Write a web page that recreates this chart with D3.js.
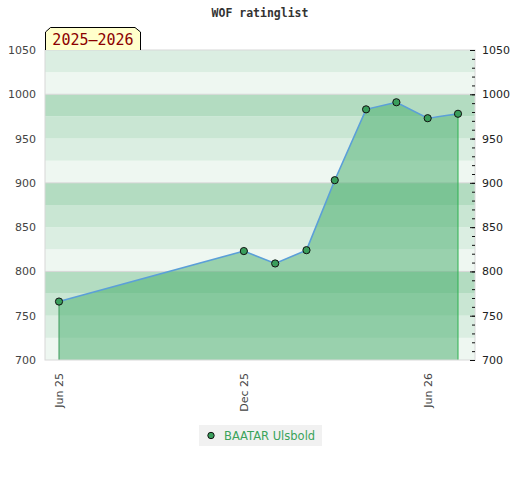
<!DOCTYPE html>
<html>
<head>
<meta charset="utf-8">
<script src="https://cdn.jsdelivr.net/npm/d3@7"></script>
<style>
  body { margin: 0; background: #fff; }
</style>
</head>
<body>
<svg id="chart"></svg>
<script>
// Rating list dates and values
const listDates = ["2025-06-01", "2025-12-01", "2026-01-01", "2026-02-01", "2026-03-01",
    "2026-04-01", "2026-05-01", "2026-06-01", "2026-07-01"];
const ratings = [766, 823, 809, 824, 903, 983, 991, 973, 978];
const playerName = "BAATAR Ulsbold";
const seasonLabel = "2025\u20132026";
const chartTitle = "WOF ratinglist";

// Axis ticks
const xTickDates = ["2025-06-01", "2025-12-01", "2026-06-01"];
const xTickLabels = ["Jun 25", "Dec 25", "Jun 26"];
const yTicks = [700, 750, 800, 850, 900, 950, 1000, 1050];

// Background bands, repeating every 100 points (from top of each 100 block)
const bandColors = ["#b3dcc1", "#c9e6d3", "#dbeee2", "#eef7f1"];

const svgWidth = 520;
const svgHeight = 480;
const plot = { left: 45, right: 475, top: 50, bottom: 360 };

const svg = d3.select("#chart")
    .attr("width", svgWidth)
    .attr("height", svgHeight);

const parse = d3.timeParse("%Y-%m-%d");
const data = listDates.map((d, i) => ({ date: parse(d), rating: ratings[i] }));

// Scales
const xScale = d3.scaleTime()
    .domain([parse("2025-06-01"), parse("2026-07-01")])
    .range([59, 458]);

const yScale = d3.scaleLinear()
    .domain([700, 1050])
    .range([plot.bottom, plot.top]);

// Bands every 25 points
const bands = d3.range(700, 1050, 25);
svg.append("g")
    .selectAll("rect")
    .data(bands)
    .enter().append("rect")
    .attr("x", plot.left)
    .attr("width", plot.right - plot.left)
    .attr("y", d => yScale(d + 25))
    .attr("height", d => yScale(d) - yScale(d + 25))
    .attr("fill", d => bandColors[(3 - ((d - 700) / 25) % 4 + 4) % 4]);

// Grid lines at hundreds
svg.append("g")
    .selectAll("line")
    .data([800, 900, 1000])
    .enter().append("line")
    .attr("x1", plot.left)
    .attr("x2", plot.right)
    .attr("y1", d => yScale(d))
    .attr("y2", d => yScale(d))
    .attr("stroke", "#d6d6d6")
    .attr("stroke-width", 1);

// Area under the rating line
const area = d3.area()
    .x(d => xScale(d.date))
    .y0(yScale(700))
    .y1(d => yScale(d.rating));

svg.append("path")
    .datum(data)
    .attr("d", area)
    .attr("fill", "#43ac6a")
    .attr("fill-opacity", 0.5);

// Vertical edges of the area
const first = data[0];
const last = data[data.length - 1];
svg.append("line")
    .attr("x1", xScale(first.date)).attr("x2", xScale(first.date))
    .attr("y1", yScale(first.rating)).attr("y2", yScale(700))
    .attr("stroke", "#3a9a5a").attr("stroke-width", 1);
svg.append("line")
    .attr("x1", xScale(last.date)).attr("x2", xScale(last.date))
    .attr("y1", yScale(last.rating)).attr("y2", yScale(700))
    .attr("stroke", "#2fb050").attr("stroke-width", 1);

// Rating line
const line = d3.line()
    .x(d => xScale(d.date))
    .y(d => yScale(d.rating));

svg.append("path")
    .datum(data)
    .attr("d", line)
    .attr("fill", "none")
    .attr("stroke", "#5b9fd8")
    .attr("stroke-width", 1.6);

// Points
svg.append("g")
    .selectAll("circle")
    .data(data)
    .enter().append("circle")
    .attr("cx", d => xScale(d.date))
    .attr("cy", d => yScale(d.rating))
    .attr("r", 3.6)
    .attr("fill", "#3a9e5c")
    .attr("stroke", "#111")
    .attr("stroke-width", 1);

// Plot border
svg.append("rect")
    .attr("x", plot.left)
    .attr("y", plot.top)
    .attr("width", plot.right - plot.left)
    .attr("height", plot.bottom - plot.top)
    .attr("fill", "none")
    .attr("stroke", "#d8d8d8")
    .attr("stroke-width", 1);

const fmt = d3.format("d");

// Left axis (labels only)
const leftAxis = svg.append("g")
    .attr("transform", `translate(${plot.left},0)`)
    .call(d3.axisLeft(yScale).tickValues(yTicks).tickFormat(fmt).tickSize(0).tickPadding(9));
leftAxis.select(".domain").remove();
leftAxis.selectAll("text")
    .attr("font-family", "DejaVu Sans, sans-serif")
    .attr("font-size", 11)
    .attr("fill", "#444");

// Right axis with minor ticks pointing inward
const rightMinor = svg.append("g")
    .attr("transform", `translate(${plot.right},0)`)
    .call(d3.axisLeft(yScale).tickValues(d3.range(700, 1051, 10)).tickSize(3).tickFormat(""));
rightMinor.select(".domain").remove();
rightMinor.selectAll("line").attr("stroke", "#111");

const rightAxis = svg.append("g")
    .attr("transform", `translate(${plot.right},0)`)
    .call(d3.axisRight(yScale).tickValues(yTicks).tickFormat(fmt).tickSize(0).tickPadding(7));
rightAxis.select(".domain").remove();
rightAxis.selectAll("text")
    .attr("font-family", "DejaVu Sans, sans-serif")
    .attr("font-size", 11)
    .attr("fill", "#222");
svg.append("g")
    .attr("transform", `translate(${plot.right},0)`)
    .call(d3.axisLeft(yScale).tickValues(yTicks).tickSize(5).tickFormat(""))
    .call(g => g.select(".domain").remove())
    .selectAll("line").attr("stroke", "#111");

// Bottom axis, rotated labels
const bottomAxis = svg.append("g")
    .attr("transform", `translate(0,${plot.bottom})`)
    .call(d3.axisBottom(xScale)
        .tickValues(xTickDates.map(parse))
        .tickFormat((d, i) => xTickLabels[i])
        .tickSize(0));
bottomAxis.select(".domain").remove();
bottomAxis.selectAll("text")
    .attr("font-family", "DejaVu Sans, sans-serif")
    .attr("font-size", 11)
    .attr("fill", "#444")
    .attr("text-anchor", "end")
    .attr("dy", "0.35em")
    .attr("transform", "translate(0,13) rotate(-90)")
    .attr("x", 0)
    .attr("y", 0);

// Title
svg.append("text")
    .attr("x", 260)
    .attr("y", 16.5)
    .attr("text-anchor", "middle")
    .attr("font-family", "DejaVu Sans Mono, monospace")
    .attr("font-weight", "bold")
    .attr("font-size", 11.5)
    .attr("fill", "#333")
    .text(chartTitle);

// Season tab
svg.append("path")
    .attr("d", "M45.5,50 L45.5,32 L50.5,27.5 L135,27.5 L140.5,32 L140.5,50")
    .attr("fill", "#ffffcc")
    .attr("stroke", "#000")
    .attr("stroke-width", 1);
svg.append("text")
    .attr("x", 93)
    .attr("y", 45)
    .attr("text-anchor", "middle")
    .attr("font-family", "DejaVu Sans Mono, monospace")
    .attr("font-size", 15)
    .attr("fill", "#8b0000")
    .text(seasonLabel);

// Legend
const legend = svg.append("g");
legend.append("rect")
    .attr("x", 199)
    .attr("y", 425)
    .attr("width", 123)
    .attr("height", 21)
    .attr("fill", "#f1f1f1");
legend.append("circle")
    .attr("cx", 211)
    .attr("cy", 435.5)
    .attr("r", 3.2)
    .attr("fill", "#3a9e5c")
    .attr("stroke", "#111")
    .attr("stroke-width", 1);
legend.append("text")
    .attr("x", 224)
    .attr("y", 439.5)
    .attr("font-family", "DejaVu Sans, sans-serif")
    .attr("font-size", 11.5)
    .attr("fill", "#3aa35a")
    .text(playerName);
</script>
</body>
</html>
